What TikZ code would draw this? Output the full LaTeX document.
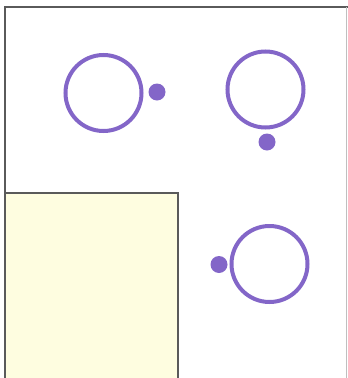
\documentclass[tikz,border=0pt]{standalone}
\definecolor{ringpurple}{HTML}{8366C8}
\definecolor{paleyellow}{HTML}{FEFDE0}
\definecolor{framegray}{HTML}{5A5A5A}
\begin{document}
\begin{tikzpicture}[
    x=1pt, y=-1pt,
    ring/.style={circle, draw=ringpurple, line width=4pt, minimum size=76pt, inner sep=0pt},
    dot/.style={circle, fill=ringpurple, minimum size=17pt, inner sep=0pt},
]
\useasboundingbox (0,0) rectangle (348,378);
% Frame and yellow square
\draw[framegray, line width=1.2pt] (5,378) -- (5,7) -- (348,7);
\draw[draw=lightgray, line width=0.6pt] (346.5,7) -- (346.5,378);
\filldraw[fill=paleyellow, draw=framegray, line width=1.2pt] (5,378) -- (5,193) -- (178,193) -- (178,378);
% Rings with their dots
\node[ring] (ringA) at (103.5,93) {};
\node[dot] (dotA) at (157,92) {};
\node[ring] (ringB) at (265.5,89.5) {};
\node[dot] (dotB) at (267,142) {};
\node[ring] (ringC) at (269.5,264) {};
\node[dot] (dotC) at (219,264.5) {};
\end{tikzpicture}
\end{document}
